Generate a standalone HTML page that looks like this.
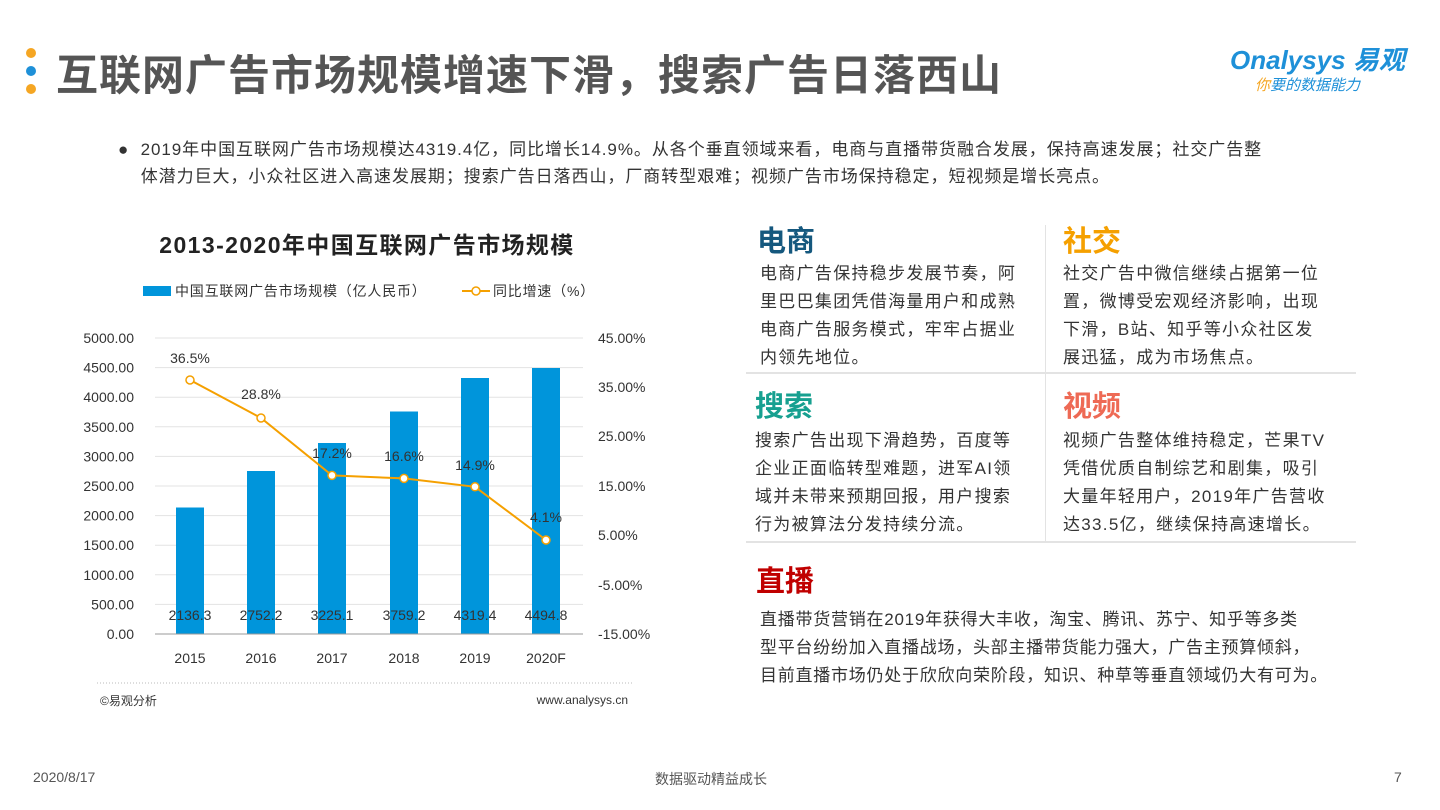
<!DOCTYPE html>
<html><head><meta charset="utf-8"><style>
body{margin:0;width:1440px;height:810px;background:#fff;position:relative;overflow:hidden;font-family:"Liberation Sans","Noto Sans CJK SC",sans-serif;color:#333}
.a{position:absolute;white-space:nowrap}
.h{font-size:29px;font-weight:bold}
.t{font-size:17px;letter-spacing:1.3px;line-height:28px;color:#333}
</style></head><body>
<div class="a" style="left:26px;top:48px;width:10px;height:10px;border-radius:50%;background:#f5a623"></div>
<div class="a" style="left:26px;top:66px;width:10px;height:10px;border-radius:50%;background:#1e90d8"></div>
<div class="a" style="left:26px;top:84px;width:10px;height:10px;border-radius:50%;background:#f5a623"></div>
<div class="a" style="left:56px;top:42px;font-size:42px;letter-spacing:1px;font-weight:bold;color:#555">互联网广告市场规模增速下滑，搜索广告日落西山</div>
<div class="a" style="left:1230px;top:40px;font-size:26px;font-weight:bold;color:#1e90d8;font-style:italic">Onalysys 易观</div>
<div class="a" style="left:1255px;top:74px;font-size:15px;color:#1e90d8;font-style:italic"><span style="color:#f5a623">你</span>要的数据能力</div>
<div class="a" style="left:118px;top:136px;font-size:17px;letter-spacing:0.95px;line-height:27px;color:#333">●&nbsp; 2019年中国互联网广告市场规模达4319.4亿，同比增长14.9%。从各个垂直领域来看，电商与直播带货融合发展，保持高速发展；社交广告整<br>&nbsp;&nbsp;&nbsp;&nbsp;体潜力巨大，小众社区进入高速发展期；搜索广告日落西山，厂商转型艰难；视频广告市场保持稳定，短视频是增长亮点。</div>

<svg class="a" style="left:0;top:0" width="740" height="730">
<text x="367" y="253" text-anchor="middle" font-size="23" letter-spacing="1.4" font-weight="bold" fill="#222">2013-2020年中国互联网广告市场规模</text>
<rect x="143" y="286" width="28" height="10" fill="#0095db"/>
<text x="175" y="296" font-size="14" letter-spacing="0.8" fill="#333">中国互联网广告市场规模（亿人民币）</text>
<line x1="462" y1="291" x2="490" y2="291" stroke="#f5a000" stroke-width="2"/>
<circle cx="476" cy="291" r="4" fill="#fff" stroke="#f5a000" stroke-width="1.5"/>
<text x="493" y="296" font-size="14" letter-spacing="0.8" fill="#333">同比增速（%）</text>
<g stroke="#e3e3e3" stroke-width="1">
<line x1="155" x2="583" y1="338" y2="338"/><line x1="155" x2="583" y1="367.6" y2="367.6"/><line x1="155" x2="583" y1="397.2" y2="397.2"/><line x1="155" x2="583" y1="426.8" y2="426.8"/><line x1="155" x2="583" y1="456.4" y2="456.4"/><line x1="155" x2="583" y1="486" y2="486"/><line x1="155" x2="583" y1="515.6" y2="515.6"/><line x1="155" x2="583" y1="545.2" y2="545.2"/><line x1="155" x2="583" y1="574.8" y2="574.8"/><line x1="155" x2="583" y1="604.4" y2="604.4"/>
</g>
<g font-size="14" fill="#333" text-anchor="end">
<text x="134" y="343">5000.00</text><text x="134" y="372.6">4500.00</text><text x="134" y="402.2">4000.00</text><text x="134" y="431.8">3500.00</text><text x="134" y="461.4">3000.00</text><text x="134" y="491">2500.00</text><text x="134" y="520.6">2000.00</text><text x="134" y="550.2">1500.00</text><text x="134" y="579.8">1000.00</text><text x="134" y="609.4">500.00</text><text x="134" y="639">0.00</text>
</g>
<g font-size="14" fill="#333">
<text x="598" y="343">45.00%</text><text x="598" y="392">35.00%</text><text x="598" y="441">25.00%</text><text x="598" y="491">15.00%</text><text x="598" y="540">5.00%</text><text x="598" y="590">-5.00%</text><text x="598" y="639">-15.00%</text>
</g>
<g fill="#0095db">
<rect x="176" y="507.5" width="28" height="126.5"/><rect x="247" y="471" width="28" height="163"/><rect x="318" y="443" width="28" height="191"/><rect x="390" y="411.5" width="28" height="222.5"/><rect x="461" y="378" width="28" height="256"/><rect x="532" y="368" width="28" height="266"/>
</g>
<line x1="155" x2="583" y1="634" y2="634" stroke="#999"/>
<g font-size="14" fill="#333" text-anchor="middle">
<text x="190" y="620">2136.3</text><text x="261" y="620">2752.2</text><text x="332" y="620">3225.1</text><text x="404" y="620">3759.2</text><text x="475" y="620">4319.4</text><text x="546" y="620">4494.8</text>
<text x="190" y="663">2015</text><text x="261" y="663">2016</text><text x="332" y="663">2017</text><text x="404" y="663">2018</text><text x="475" y="663">2019</text><text x="546" y="663">2020F</text>
</g>
<polyline points="190,380 261,418 332,475.4 404,478.4 475,486.8 546,540" fill="none" stroke="#f5a000" stroke-width="2"/>
<g fill="#fff" stroke="#f5a000" stroke-width="1.5">
<circle cx="190" cy="380" r="4"/><circle cx="261" cy="418" r="4"/><circle cx="332" cy="475.4" r="4"/><circle cx="404" cy="478.4" r="4"/><circle cx="475" cy="486.8" r="4"/><circle cx="546" cy="540" r="4"/>
</g>
<g font-size="14" fill="#333" text-anchor="middle">
<text x="190" y="363">36.5%</text><text x="261" y="399">28.8%</text><text x="332" y="458">17.2%</text><text x="404" y="461">16.6%</text><text x="475" y="470">14.9%</text><text x="546" y="522">4.1%</text>
</g>
<line x1="97" x2="632" y1="683" y2="683" stroke="#bbb" stroke-dasharray="1,2"/>
<text x="100" y="705" font-size="12" fill="#333">©易观分析</text>
<text x="628" y="704" font-size="12" fill="#333" text-anchor="end">www.analysys.cn</text>
</svg>

<div class="a" style="left:1045px;top:225px;width:1px;height:317px;background:#e3e3e3"></div>
<div class="a" style="left:746px;top:372px;width:610px;height:2px;background:#e3e3e3"></div>
<div class="a" style="left:746px;top:541px;width:610px;height:2px;background:#e3e3e3"></div>

<div class="a h" style="left:757px;top:218px;color:#15587e">电商</div>
<div class="a t" style="left:760px;top:260px">电商广告保持稳步发展节奏，阿<br>里巴巴集团凭借海量用户和成熟<br>电商广告服务模式，牢牢占据业<br>内领先地位。</div>
<div class="a h" style="left:1063px;top:218px;color:#f5a000">社交</div>
<div class="a t" style="left:1063px;top:260px">社交广告中微信继续占据第一位<br>置，微博受宏观经济影响，出现<br>下滑，B站、知乎等小众社区发<br>展迅猛，成为市场焦点。</div>
<div class="a h" style="left:755px;top:383px;color:#17a090">搜索</div>
<div class="a t" style="left:755px;top:427px">搜索广告出现下滑趋势，百度等<br>企业正面临转型难题，进军AI领<br>域并未带来预期回报，用户搜索<br>行为被算法分发持续分流。</div>
<div class="a h" style="left:1063px;top:383px;color:#ee6a55">视频</div>
<div class="a t" style="left:1063px;top:427px">视频广告整体维持稳定，芒果TV<br>凭借优质自制综艺和剧集，吸引<br>大量年轻用户，2019年广告营收<br>达33.5亿，继续保持高速增长。</div>
<div class="a h" style="left:756px;top:558px;color:#c00000">直播</div>
<div class="a t" style="left:760px;top:606px;letter-spacing:0.75px">直播带货营销在2019年获得大丰收，淘宝、腾讯、苏宁、知乎等多类<br>型平台纷纷加入直播战场，头部主播带货能力强大，广告主预算倾斜，<br>目前直播市场仍处于欣欣向荣阶段，知识、种草等垂直领域仍大有可为。</div>

<div class="a" style="left:33px;top:769px;font-size:14px;color:#555">2020/8/17</div>
<div class="a" style="left:655px;top:769px;font-size:14px;color:#555">数据驱动精益成长</div>
<div class="a" style="left:1394px;top:769px;font-size:14px;color:#555">7</div>
</body></html>
